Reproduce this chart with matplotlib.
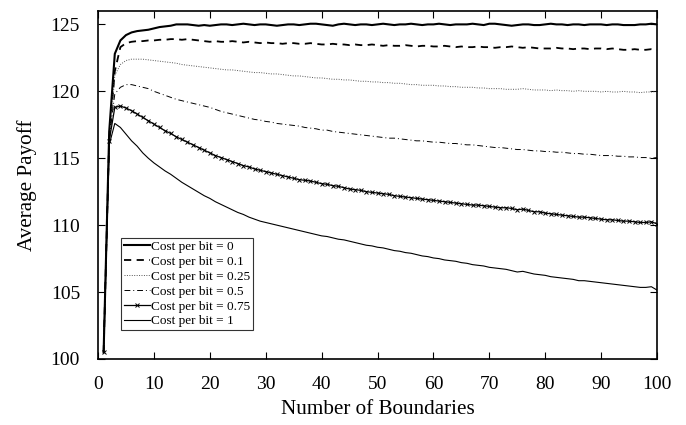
import matplotlib
matplotlib.use("Agg")
import matplotlib.pyplot as plt
import numpy as np

boundaries = list(range(1, 101))

cost_0 = [100.5, 117.0, 122.8, 123.8, 124.2, 124.4, 124.5, 124.55, 124.6, 124.7,
          124.8, 124.85, 124.9, 125.0, 125.0, 125.0, 124.95, 124.9, 124.95, 124.9,
          124.95, 125.0, 125.0, 124.95, 125.0, 125.05, 125.0, 124.95, 125.0, 125.0,
          124.95, 124.9, 124.95, 125.0, 125.0, 124.95, 125.0, 125.05, 125.05, 125.0,
          124.95, 124.9, 125.0, 125.05, 125.0, 124.95, 125.0, 125.0, 124.95, 125.0,
          125.05, 125.0, 124.95, 125.0, 125.0, 125.05, 125.0, 124.95, 125.0, 125.0,
          125.05, 125.0, 124.95, 125.0, 125.0, 125.0, 125.05, 125.0, 124.95, 125.05,
          125.05, 125.0, 124.95, 124.9, 124.95, 125.0, 125.0, 124.95, 124.95, 125.0,
          125.05, 125.0, 125.0, 124.95, 125.0, 125.0, 124.95, 125.0, 125.0, 125.0,
          124.95, 125.0, 125.0, 124.95, 124.95, 124.95, 125.0, 125.0, 125.05, 125.0]

cost_01 = [100.5, 116.5, 121.5, 123.3, 123.6, 123.7, 123.75, 123.75, 123.8, 123.8,
           123.85, 123.85, 123.9, 123.9, 123.85, 123.9, 123.85, 123.8, 123.75, 123.7,
           123.75, 123.7, 123.7, 123.75, 123.7, 123.65, 123.7, 123.65, 123.6, 123.65,
           123.6, 123.6, 123.55, 123.6, 123.6, 123.55, 123.55, 123.6, 123.55, 123.5,
           123.5, 123.55, 123.5, 123.5, 123.45, 123.5, 123.45, 123.45, 123.5, 123.45,
           123.4, 123.45, 123.4, 123.4, 123.45, 123.4, 123.35, 123.4, 123.4, 123.35,
           123.35, 123.4, 123.35, 123.3, 123.35, 123.3, 123.3, 123.35, 123.3, 123.3,
           123.25, 123.3, 123.3, 123.35, 123.3, 123.25, 123.3, 123.25, 123.2, 123.2,
           123.2, 123.25, 123.2, 123.2, 123.15, 123.2, 123.2, 123.15, 123.2, 123.2,
           123.15, 123.2, 123.15, 123.1, 123.1, 123.15, 123.1, 123.1, 123.15, 123.1]

cost_025 = [100.5, 116.0, 121.2, 122.0, 122.3, 122.4, 122.4, 122.4, 122.35, 122.3,
            122.25, 122.2, 122.15, 122.1, 122.0, 121.95, 121.9, 121.85, 121.8, 121.75,
            121.7, 121.65, 121.6, 121.6, 121.55, 121.5, 121.45, 121.4, 121.4, 121.35,
            121.3, 121.3, 121.25, 121.2, 121.15, 121.15, 121.1, 121.05, 121.0, 121.0,
            120.95, 120.9, 120.9, 120.85, 120.85, 120.8, 120.75, 120.75, 120.7, 120.7,
            120.65, 120.65, 120.6, 120.6, 120.55, 120.5, 120.5, 120.45, 120.45, 120.45,
            120.4, 120.4, 120.35, 120.35, 120.3, 120.3, 120.3, 120.25, 120.25, 120.2,
            120.2, 120.2, 120.15, 120.15, 120.15, 120.2, 120.15, 120.1, 120.1, 120.1,
            120.05, 120.1, 120.05, 120.05, 120.0, 120.05, 120.0, 120.0, 120.0, 119.95,
            120.0, 119.95, 119.95, 120.0, 119.95, 119.95, 119.9, 119.95, 119.95, 120.0]

cost_05 = [100.5, 116.5, 119.8, 120.3, 120.5, 120.5, 120.4, 120.3, 120.2, 120.0,
           119.85, 119.7, 119.55, 119.4, 119.3, 119.2, 119.1, 119.0, 118.9, 118.8,
           118.65, 118.5, 118.4, 118.3, 118.2, 118.1, 118.0, 117.9, 117.85, 117.75,
           117.7, 117.6, 117.55, 117.5, 117.45, 117.4, 117.3, 117.25, 117.2, 117.1,
           117.1, 117.0, 116.95, 116.9, 116.85, 116.8, 116.75, 116.7, 116.65, 116.6,
           116.55, 116.5, 116.5, 116.45, 116.4, 116.35, 116.3, 116.3, 116.25, 116.2,
           116.2, 116.15, 116.1, 116.1, 116.05, 116.0, 116.0, 115.95, 115.9, 115.85,
           115.8, 115.8, 115.75, 115.7, 115.65, 115.65, 115.6, 115.55, 115.55, 115.5,
           115.5, 115.45, 115.45, 115.4, 115.35, 115.35, 115.3, 115.3, 115.25, 115.2,
           115.2, 115.2, 115.15, 115.15, 115.1, 115.1, 115.05, 115.05, 115.0, 115.05]

cost_075 = [100.5, 116.3, 118.8, 118.9, 118.75, 118.55, 118.3, 118.05, 117.8, 117.55,
            117.3, 117.05, 116.85, 116.6, 116.4, 116.2, 116.0, 115.8, 115.6, 115.4,
            115.2, 115.05, 114.9, 114.75, 114.6, 114.45, 114.35, 114.2, 114.1, 114.0,
            113.9, 113.8, 113.7, 113.6, 113.5, 113.4, 113.35, 113.3, 113.2, 113.1,
            113.05, 112.95, 112.9, 112.8, 112.7, 112.65, 112.6, 112.5, 112.45, 112.4,
            112.35, 112.3, 112.2, 112.15, 112.1, 112.05, 112.0, 111.95, 111.9, 111.85,
            111.8, 111.75, 111.7, 111.65, 111.6, 111.55, 111.5, 111.5, 111.45, 111.4,
            111.35, 111.3, 111.3, 111.25, 111.15, 111.2, 111.1, 111.0, 111.0, 110.9,
            110.85, 110.8, 110.75, 110.7, 110.65, 110.6, 110.6, 110.55, 110.5, 110.45,
            110.4, 110.4, 110.35, 110.3, 110.3, 110.25, 110.2, 110.2, 110.25, 110.1]

cost_1 = [100.5, 116.0, 117.6, 117.3, 116.8, 116.3, 115.9, 115.4, 115.0, 114.65,
          114.35, 114.05, 113.8, 113.5, 113.2, 112.95, 112.7, 112.45, 112.2, 112.0,
          111.75, 111.55, 111.35, 111.15, 110.95, 110.8, 110.6, 110.45, 110.3, 110.2,
          110.1, 110.0, 109.9, 109.8, 109.7, 109.6, 109.5, 109.4, 109.3, 109.2,
          109.15, 109.05, 108.95, 108.9, 108.8, 108.7, 108.6, 108.5, 108.45, 108.35,
          108.3, 108.2, 108.1, 108.05, 107.95, 107.9, 107.8, 107.7, 107.65, 107.55,
          107.5, 107.4, 107.35, 107.3, 107.2, 107.15, 107.05, 107.0, 106.95, 106.85,
          106.8, 106.75, 106.7, 106.6, 106.5, 106.55, 106.45, 106.35, 106.3, 106.25,
          106.15, 106.1, 106.05, 106.0, 105.95, 105.85, 105.85, 105.8, 105.75, 105.7,
          105.65, 105.6, 105.55, 105.5, 105.45, 105.4, 105.35, 105.35, 105.4, 105.15]

labels = ["Cost per bit = 0", "Cost per bit = 0.1", "Cost per bit = 0.25",
          "Cost per bit = 0.5", "Cost per bit = 0.75", "Cost per bit = 1"]

plt.rcParams['font.family'] = ['Liberation Serif', 'DejaVu Serif']

fig = plt.figure(figsize=(6.86, 4.25), dpi=100)
ax = fig.add_axes([0.1429, 0.1553, 0.8148, 0.8188])

ax.plot(boundaries, cost_0, color='black', lw=1.5, ls='-', label=labels[0])
ax.plot(boundaries, cost_01, color='black', lw=1.3, ls=(0, (4, 3)), label=labels[1])
ax.plot(boundaries, cost_025, color='#555555', lw=0.7, ls=(0, (1, 1.5)), label=labels[2])
ax.plot(boundaries, cost_05, color='black', lw=0.7, ls=(0, (6, 3, 1, 3)), label=labels[3])
ax.plot(boundaries, cost_075, color='black', lw=0.9, ls='-', marker='x', ms=3,
        mew=0.7, label=labels[4])
ax.plot(boundaries, cost_1, color='black', lw=0.8, ls='-', label=labels[5])

ax.set_xlim(0, 100)
ax.set_ylim(100, 126)
ax.set_xticks(range(0, 101, 10))
ax.set_yticks(range(100, 126, 5))
ax.tick_params(direction='in', top=True, right=True, length=5, width=0.8,
               labelsize=14)
ax.tick_params(axis='y', pad=13)
ax.tick_params(axis='x', pad=12)
for s in ax.spines.values():
    s.set_linewidth(1.2)

ax.set_xlabel("Number of Boundaries", fontsize=15.2, labelpad=5)
ax.set_ylabel("Average Payoff", fontsize=15.2, labelpad=10)

leg = ax.legend(loc='lower left', bbox_to_anchor=(0.041, 0.083), fontsize=9.5,
                frameon=True, fancybox=False, edgecolor='black', handlelength=2.0,
                handletextpad=0.1, borderpad=0.2, labelspacing=0.2, borderaxespad=0)
leg.get_frame().set_linewidth(0.8)

fig.savefig("out.png", dpi=100)
